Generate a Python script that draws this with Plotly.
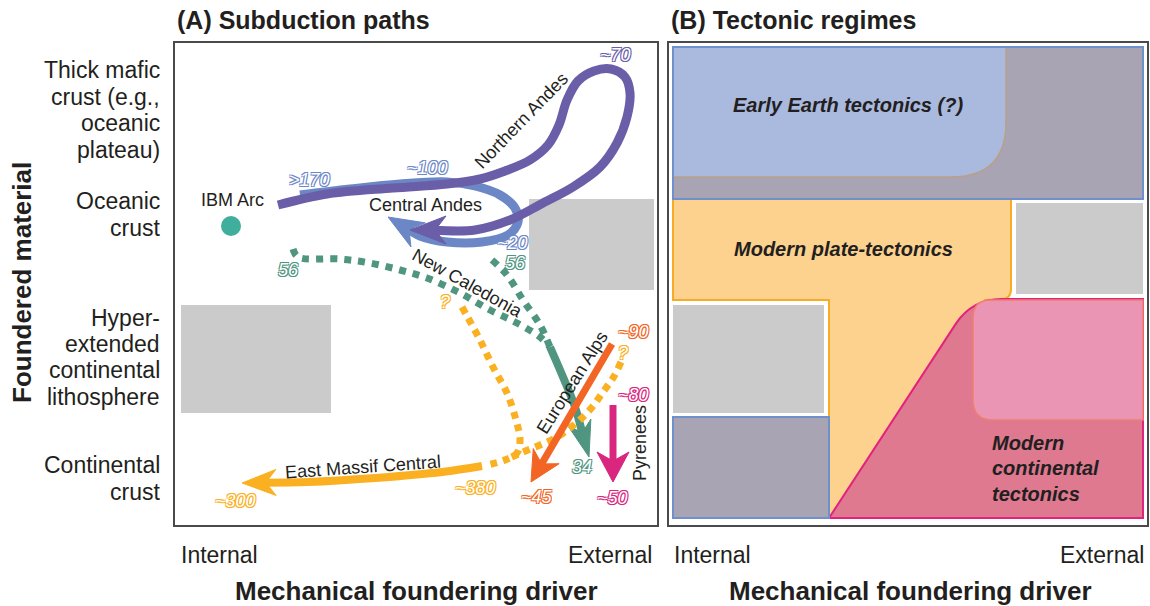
import math
import plotly.graph_objects as go

W, H = 1150, 606
FONT = "Liberation Sans, Arial, Helvetica, sans-serif"
DARK = "#231f20"

# ---------------- Panel frames (canvas pixel units used as axis units) ----------
FRAME_A = (175, 657, 43, 525)
FRAME_B = (669, 1147, 43, 525)

# ---------------- Panel A : subduction paths ----------------------------------
NORTH_ANDES = [(278, 205), (327, 194), (393, 188), (447, 184), (480, 179), (505, 171),
               (530, 160), (548, 145), (559, 125), (567, 100), (578, 81), (594, 71),
               (611, 69), (625, 77), (630, 93), (627, 117), (617, 143), (600, 167),
               (573, 187), (543, 203), (510, 220), (475, 230), (410, 230)]
CENTRAL_ANDES = [(300, 195), (350, 189), (400, 184), (447, 182), (475, 186), (500, 195),
                 (515, 208), (518, 222), (508, 235), (482, 242), (447, 242), (420, 236),
                 (388, 217)]
NEW_CAL_DOT1 = [(293, 249), (298, 257), (340, 259), (370, 263), (400, 270), (427, 278),
                (460, 293), (490, 310), (517, 323), (540, 337), (550, 347)]
NEW_CAL_DOT2 = [(492, 260), (507, 275), (523, 300), (540, 325), (550, 347)]
NEW_CAL_SOLID = [(550, 347), (563, 377), (575, 407), (589, 457)]
EMC_DOT1 = [(462, 307), (467, 316), (480, 340), (493, 367), (507, 393), (516, 420),
            (520, 440), (517, 453), (505, 460), (487, 465)]
EMC_DOT2 = [(621, 362), (613, 378), (603, 392), (593, 406), (583, 417), (570, 428),
            (557, 437), (540, 445), (523, 452), (505, 460)]
EMC_SOLID = [(482, 466), (442, 472), (375, 478), (308, 482), (242, 483)]
ALPS = [(612, 344), (531, 482)]
PYRENEES = [(613, 405), (613, 482)]
IBM_ARC = (231, 226)
GRAY_A = [(529, 199, 654, 290), (181, 305, 331, 413)]

C_PURPLE = "#6b5ea8"
C_BLUE = "#6c87c6"
C_TEAL = "#4f9580"
C_IBM = "#3fae9c"
C_YELLOW = "#fbb021"
C_ORANGE = "#f26524"
C_MAGENTA = "#d9267f"
C_GRAY = "#cbcbcb"

# (text, x, y, colour)
AGE_LABELS = [(">170", 309, 180, C_BLUE), ("~100", 427, 168, C_BLUE), ("~70", 615, 55, C_PURPLE),
              ("~20", 512, 243, C_BLUE), ("56", 288, 270, C_TEAL), ("56", 515, 263, C_TEAL),
              ("34", 582, 467, C_TEAL), ("?", 445, 302, C_YELLOW), ("?", 623, 353, C_YELLOW),
              ("~380", 475, 488, C_YELLOW), ("~300", 235, 501, C_YELLOW),
              ("~90", 633, 332, C_ORANGE), ("~45", 537, 497, C_ORANGE),
              ("~80", 633, 395, C_MAGENTA), ("~50", 612, 498, C_MAGENTA)]
# (text, x, y, angle)
PATH_NAMES = [("IBM Arc", 232, 200, 0), ("Central Andes", 425, 205, 0),
              ("Northern Andes", 521, 121, -46), ("New Caledonia", 467, 283, 29),
              ("European Alps", 572, 383, -58), ("Pyrenees", 640, 443, -90),
              ("East Massif Central", 363, 467, -4)]

# ---------------- Left category labels ----------------------------------------
CATEGORY_LINES = [("Thick mafic", 70), ("crust (e.g.,", 97), ("oceanic", 123), ("plateau)", 150),
                  ("Oceanic", 201), ("crust", 228),
                  ("Hyper-", 318), ("extended", 344), ("continental", 370), ("lithosphere", 397),
                  ("Continental", 465), ("crust", 492)]

# ---------------- Panel B : tectonic regimes (x, y, corner radius) -------------
BAND = [(673, 47, 0), (1143, 47, 0), (1143, 199, 0), (673, 199, 0)]
EARLY = [(673, 47, 0), (1006, 47, 0), (1006, 177, 55), (673, 177, 0)]
PLATE = [(673, 199, 0), (1011, 199, 0), (1011, 299, 10), (985, 300, 0), (985, 330, 0),
         (845, 518, 0), (829, 518, 0), (829, 300, 0), (673, 300, 0)]
CONT = [(829, 518, 0), (972, 299, 30), (1143, 299, 0), (1143, 518, 0)]
INNER = [(1143, 300, 0), (1143, 420, 0), (973, 420, 20), (973, 300, 18)]
BL_RECT = [(673, 417, 0), (829, 417, 0), (829, 518, 0), (673, 518, 0)]
GRAY_B = [(1016, 203, 1143, 294), (673, 305, 824, 413)]
REGION_LABELS = [("Early Earth tectonics (?)", 848, 105, "center"),
                 ("Modern plate-tectonics", 843, 249, "center"),
                 ("Modern", 990, 443, "left"), ("continental", 990, 468, "left"),
                 ("tectonics", 990, 494, "left")]

fig = go.Figure()


def xs(pts):
    return [p[0] for p in pts]


def ys(pts):
    return [p[1] for p in pts]


def add_line(pts, color, width, dash=None):
    fig.add_trace(go.Scatter(x=xs(pts), y=ys(pts), mode="lines", xaxis="x", yaxis="y",
                             line=dict(color=color, width=width, shape="spline", dash=dash),
                             hoverinfo="skip", showlegend=False))


def add_arrow(pts, color, width, head_len, head_w, notch=0.3):
    (px, py), (tx, ty) = pts[-2], pts[-1]
    d = math.hypot(tx - px, ty - py)
    ux, uy = (tx - px) / d, (ty - py) / d
    bx, by = tx - ux * head_len, ty - uy * head_len
    nx_, ny_ = tx - ux * head_len * (1 - notch), ty - uy * head_len * (1 - notch)
    vx, vy = -uy, ux
    body = list(pts[:-1]) + [(nx_ + ux * 2, ny_ + uy * 2)]
    add_line(body, color, width)
    head = [(tx, ty), (bx + vx * head_w, by + vy * head_w), (nx_, ny_),
            (bx - vx * head_w, by - vy * head_w), (tx, ty)]
    fig.add_trace(go.Scatter(x=xs(head), y=ys(head), mode="lines", fill="toself",
                             fillcolor=color, line=dict(color=color, width=1),
                             xaxis="x", yaxis="y", hoverinfo="skip", showlegend=False))


def rounded_path(pts):
    n = len(pts)
    segs = []
    for i, (x, y, r) in enumerate(pts):
        if r <= 0:
            segs.append(("P", (x, y)))
            continue
        px, py = pts[i - 1][:2]
        qx, qy = pts[(i + 1) % n][:2]
        d1 = math.hypot(x - px, y - py)
        d2 = math.hypot(qx - x, qy - y)
        a = (x - (x - px) * r / d1, y - (y - py) * r / d1)
        b = (x + (qx - x) * r / d2, y + (qy - y) * r / d2)
        segs.append(("R", a, (x, y), b))
    first = segs[0]
    start = first[1] if first[0] == "P" else first[3]
    s = f"M{start[0]},{start[1]}"
    for seg in segs[1:] + [segs[0]]:
        if seg[0] == "P":
            s += f" L{seg[1][0]},{seg[1][1]}"
        else:
            s += f" L{seg[1][0]},{seg[1][1]} Q{seg[2][0]},{seg[2][1]} {seg[3][0]},{seg[3][1]}"
    return s + " Z"


shapes = []
for (x0, y0, x1, y1) in GRAY_A:
    shapes.append(dict(type="rect", xref="x", yref="y", x0=x0, y0=y0, x1=x1, y1=y1,
                       fillcolor=C_GRAY, line=dict(width=0), layer="below"))


def region(pts, fill, outline, width=1.6):
    shapes.append(dict(type="path", xref="x2", yref="y2", path=rounded_path(pts),
                       fillcolor=fill, line=dict(color=outline, width=width), layer="above"))


region(PLATE, "#fdd28e", "#f8ab25", 2)
region(CONT, "#de7990", "#e2227e", 2)
region(INNER, "#e995b3", "#f07f70", 1.5)
region(BAND, "#a9a4b4", "#7090cc", 2)
region(EARLY, "#aab9de", "#b9a089", 1.5)
region(BAND, "rgba(0,0,0,0)", "#7090cc", 2)
region(BL_RECT, "#a9a4b4", "#7090cc", 2)
for (x0, y0, x1, y1) in GRAY_B:
    shapes.append(dict(type="rect", xref="x2", yref="y2", x0=x0, y0=y0, x1=x1, y1=y1,
                       fillcolor=C_GRAY, line=dict(width=0), layer="above"))

# ---- panel A marks
add_arrow(CENTRAL_ANDES, C_BLUE, 9, 35, 14)
add_arrow(NORTH_ANDES, C_PURPLE, 9, 36, 14)
add_line(NEW_CAL_DOT1, C_TEAL, 7, dash="7px,7px")
add_line(NEW_CAL_DOT2, C_TEAL, 7, dash="7px,7px")
add_arrow(NEW_CAL_SOLID, C_TEAL, 8, 36, 12)
add_line(EMC_DOT1, C_YELLOW, 7, dash="7px,6px")
add_line(EMC_DOT2, C_YELLOW, 7, dash="7px,6px")
add_arrow(EMC_SOLID, C_YELLOW, 8, 34, 13)
add_arrow(ALPS, C_ORANGE, 7, 30, 15)
add_arrow(PYRENEES, C_MAGENTA, 7, 30, 16)
fig.add_trace(go.Scatter(x=[IBM_ARC[0]], y=[IBM_ARC[1]], mode="markers", xaxis="x", yaxis="y",
                         marker=dict(size=20, color=C_IBM), hoverinfo="skip", showlegend=False))

ann = []


def note(text, x, y, size, ref=("x", "y"), color=DARK, angle=0, xanchor="center",
         weight="normal", style="normal", shadow=None):
    if ref == ("paper", "paper"):
        x, y = x / W, 1 - y / H
    f = dict(family=FONT, size=size, color=color, weight=weight, style=style)
    if shadow:
        f["shadow"] = shadow
    ann.append(dict(text=text, x=x, y=y, xref=ref[0], yref=ref[1], showarrow=False,
                    textangle=angle, xanchor=xanchor, yanchor="middle", font=f))


for (t, x, y, c) in AGE_LABELS:
    sh = f"-1px -1px 0 {c}, 1px -1px 0 {c}, -1px 1px 0 {c}, 1px 1px 0 {c}"
    note(t, x, y, 18, color="white", style="italic", shadow=sh)
for (t, x, y, a) in PATH_NAMES:
    note(t, x, y, 18, angle=a)
for (t, x, y, xa) in REGION_LABELS:
    note(t, x, y, 20, ref=("x2", "y2"), xanchor=xa, weight="bold", style="italic")

for (t, y) in CATEGORY_LINES:
    note(t, 162, y, 23, ref=("paper", "paper"), xanchor="right")
note("(A) Subduction paths", 175, 20, 25, ref=("paper", "paper"), xanchor="left", weight="bold")
note("(B) Tectonic regimes", 669, 20, 25, ref=("paper", "paper"), xanchor="left", weight="bold")
note("Foundered material", 22, 283, 26, ref=("paper", "paper"), angle=-90, weight="bold")
note("Internal", 179, 555, 23, ref=("paper", "paper"), xanchor="left")
note("External", 654, 555, 23, ref=("paper", "paper"), xanchor="right")
note("Internal", 672, 555, 23, ref=("paper", "paper"), xanchor="left")
note("External", 1146, 555, 23, ref=("paper", "paper"), xanchor="right")
note("Mechanical foundering driver", 416, 591, 26, ref=("paper", "paper"), weight="bold")
note("Mechanical foundering driver", 910, 591, 26, ref=("paper", "paper"), weight="bold")


def axis(lo, hi, domain, anchor):
    return dict(range=[lo, hi], domain=domain, anchor=anchor, showgrid=False, zeroline=False,
                showticklabels=False, ticks="", showline=True, mirror=True,
                linecolor="#4a4a4a", linewidth=1.5, fixedrange=True)


ydom = [1 - FRAME_A[3] / H, 1 - FRAME_A[2] / H]
fig.update_layout(
    width=W, height=H, margin=dict(l=0, r=0, t=0, b=0),
    paper_bgcolor="white", plot_bgcolor="white", showlegend=False, hovermode=False,
    xaxis=axis(FRAME_A[0], FRAME_A[1], [FRAME_A[0] / W, FRAME_A[1] / W], "y"),
    yaxis=axis(FRAME_A[3], FRAME_A[2], ydom, "x"),
    xaxis2=axis(FRAME_B[0], FRAME_B[1], [FRAME_B[0] / W, FRAME_B[1] / W], "y2"),
    yaxis2=axis(FRAME_B[3], FRAME_B[2], ydom, "x2"),
    shapes=shapes, annotations=ann,
)
fig.write_html("out.html", config=dict(displayModeBar=False),
               post_script="document.body.style.margin='0';document.body.style.overflow='hidden';")
